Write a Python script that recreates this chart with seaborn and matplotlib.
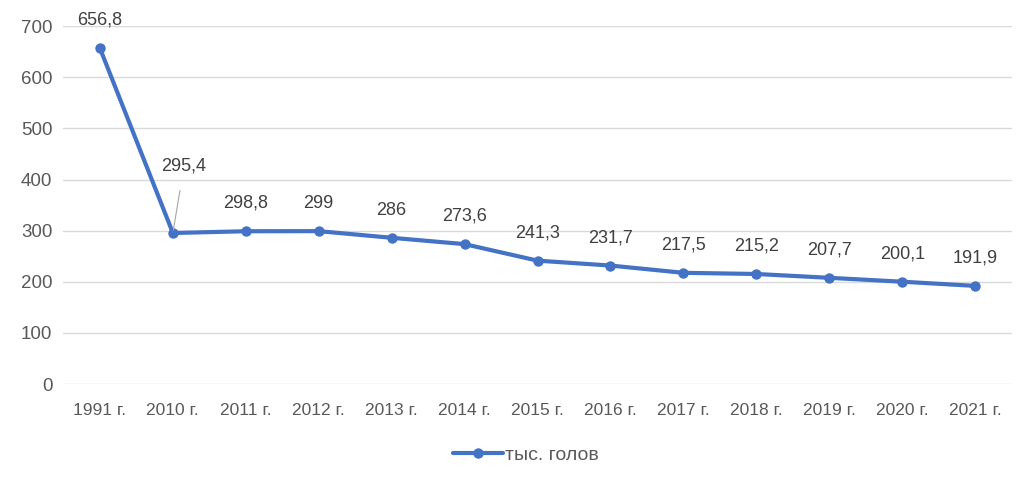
import pandas as pd
import matplotlib
matplotlib.use("Agg")
import matplotlib.pyplot as plt
import seaborn as sns

years = ["1991 г.", "2010 г.", "2011 г.", "2012 г.", "2013 г.", "2014 г.", "2015 г.",
         "2016 г.", "2017 г.", "2018 г.", "2019 г.", "2020 г.", "2021 г."]
values = [656.8, 295.4, 298.8, 299, 286, 273.6, 241.3, 231.7, 217.5, 215.2, 207.7, 200.1, 191.9]
series_name = "тыс. голов"

df = pd.DataFrame({"year": years, "value": values})
df["x"] = range(len(df))

sns.set_style("white")
plt.rcParams["font.family"] = ["Liberation Sans", "DejaVu Sans"]

fig = plt.figure(figsize=(10.27, 4.84), dpi=100)
ax = fig.add_axes([0.0618, 0.2066, 0.9232, 0.7394])

blue = "#4472C4"
grey = "#595959"
sns.lineplot(data=df, x="x", y="value", ax=ax, color=blue, linewidth=3,
             marker="o", markersize=7.5, markeredgewidth=0, label=series_name, legend=False)

ax.set_xlim(-0.5, len(df) - 0.5)
ax.set_ylim(0, 700)
ax.set_yticks(range(0, 701, 100))
ax.set_xticks(df["x"])
ax.set_xticklabels(df["year"])
ax.yaxis.grid(True, color="#D9D9D9", linewidth=1)
ax.set_axisbelow(True)
for s in ax.spines.values():
    s.set_visible(False)
ax.tick_params(axis="both", length=0, colors=grey)
ax.tick_params(axis="x", pad=14, labelsize=12.5)
ax.tick_params(axis="y", pad=8, labelsize=13.5)
ax.set_xlabel("")
ax.set_ylabel("")

for i, v in enumerate(values):
    txt = f"{v:g}".replace(".", ",")
    if i == 1:
        ax.annotate(txt, xy=(i, v), xytext=(8, 48), textcoords="offset points",
                    ha="center", va="center", fontsize=13, color="#404040",
                    arrowprops=dict(arrowstyle="-", color="#A6A6A6", lw=0.8,
                                    shrinkA=9, shrinkB=2))
    else:
        ax.annotate(txt, xy=(i, v), xytext=(0, 20), textcoords="offset points",
                    ha="center", va="center", fontsize=13, color="#404040")

h, l = ax.get_legend_handles_labels()
fig.legend(h, l, loc="center", bbox_to_anchor=(0.512, 0.06), frameon=False,
           fontsize=14, labelcolor=grey, handlelength=2.6, handletextpad=0.1)

fig.savefig("out.png", dpi=100)
